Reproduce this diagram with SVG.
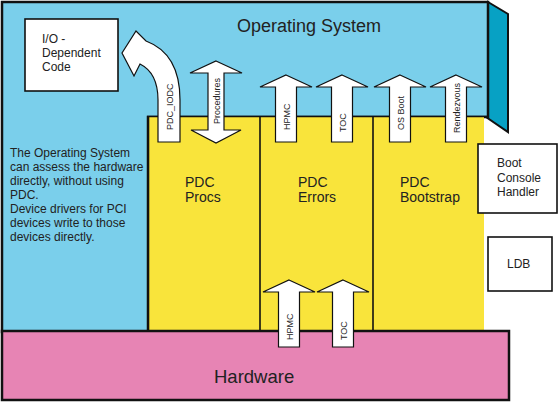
<svg xmlns="http://www.w3.org/2000/svg" width="558" height="403" viewBox="0 0 558 403">
<style>
text{font-family:"Liberation Sans",Arial,sans-serif;fill:#222}
.arrow{fill:#fff;stroke:#111;stroke-width:1.2;stroke-linejoin:miter}
.al{font-size:9px}
.box{fill:#fff;stroke:#111;stroke-width:1.6}
.lbl{font-size:12px}
.pdc{font-size:14px}
.div{stroke:#111;stroke-width:1.6}
</style>
<rect width="558" height="403" fill="#fff"/>
<g id="os">
<polygon points="488,2 508,14 508,132 486,117" fill="#07a1c4" stroke="#111" stroke-width="2"/>
<path d="M2,2 H488 V117 H148 V332 H2 Z" fill="#7acfeb" stroke="#111" stroke-width="2.5"/>
<text x="237" y="32" style="font-size:18px">Operating System</text>
<text class="lbl" x="10"><tspan x="10" y="157">The Operating System</tspan><tspan x="10" y="171">can assess the hardware</tspan><tspan x="10" y="185">directly, without using</tspan><tspan x="10" y="199">PDC.</tspan><tspan x="10" y="213">Device drivers for PCI</tspan><tspan x="10" y="227">devices write to those</tspan><tspan x="10" y="241">devices directly.</tspan></text>
</g>
<g id="pdc">
<rect x="148" y="116.5" width="336" height="215" fill="#f9e43b"/>
<line class="div" x1="147" y1="116.5" x2="488" y2="116.5"/>
<line class="div" x1="148.5" y1="116" x2="148.5" y2="332"/>
<line class="div" x1="260" y1="116" x2="260" y2="332"/>
<line class="div" x1="373" y1="116" x2="373" y2="332"/>
</g>
<g id="pdc-procs"><text class="pdc" x="185"><tspan x="185" y="187">PDC</tspan><tspan x="185" y="202">Procs</tspan></text></g>
<g id="pdc-errors"><text class="pdc" x="298"><tspan x="298" y="187">PDC</tspan><tspan x="298" y="202">Errors</tspan></text></g>
<g id="pdc-bootstrap"><text class="pdc" x="400"><tspan x="400" y="187">PDC</tspan><tspan x="400" y="202">Bootstrap</tspan></text></g>
<g id="hardware">
<rect x="2" y="331" width="507" height="69" fill="#e784b4" stroke="#111" stroke-width="2.5"/>
<text x="214" y="383" style="font-size:18.5px">Hardware</text>
</g>
<g id="io-code">
<rect class="box" x="25" y="19" width="93" height="72"/>
<text class="lbl"><tspan x="42" y="43">I/O -</tspan><tspan x="42" y="57">Dependent</tspan><tspan x="42" y="71">Code</tspan></text>
</g>
<g id="boot-console">
<rect class="box" x="478" y="144" width="79" height="69" stroke-width="2"/>
<text class="lbl"><tspan x="497" y="167">Boot</tspan><tspan x="497" y="182">Console</tspan><tspan x="497" y="196">Handler</tspan></text>
</g>
<g id="ldb">
<rect class="box" x="488" y="237" width="64" height="54"/>
<text class="lbl" x="507" y="268">LDB</text>
</g>
<g id="connectors">
<path class="arrow" d="M158,142 L158,100 C158,82 152,70 140,64 L134,76 L122,53 L136,31 L146,41 C170,50 180,72 180,100 L180,142 Z"/>
<text class="al" transform="translate(173,130) rotate(-90)">PDC_IODC</text>
<polygon class="arrow" points="216,61 242,73 224,73 224,130 241,130 216,143 191,130 208,130 208,73 190,73"/>
<text class="al" transform="translate(219.5,124) rotate(-90)">Procedures</text>
<polygon class="arrow" points="286,75 312,87 296.5,87 296.5,142 275.5,142 275.5,87 260,87"/>
<text class="al" transform="translate(289.5,130) rotate(-90)">HPMC</text>
<polygon class="arrow" points="342,75 368,87 352.5,87 352.5,142 331.5,142 331.5,87 316,87"/>
<text class="al" transform="translate(345.5,132) rotate(-90)">TOC</text>
<polygon class="arrow" points="400,75 426,87 410.5,87 410.5,142 389.5,142 389.5,87 374,87"/>
<text class="al" transform="translate(403.5,130) rotate(-90)">OS Boot</text>
<polygon class="arrow" points="456,75 482,87 466.5,87 466.5,142 445.5,142 445.5,87 430,87"/>
<text class="al" transform="translate(459.5,133) rotate(-90)">Rendezvous</text>
<polygon class="arrow" points="289,280 315,292 299.5,292 299.5,347 278.5,347 278.5,292 263,292"/>
<text class="al" transform="translate(292.5,340) rotate(-90)">HPMC</text>
<polygon class="arrow" points="343,280 369,292 353.5,292 353.5,347 332.5,347 332.5,292 317,292"/>
<text class="al" transform="translate(346.5,340) rotate(-90)">TOC</text>
</g>
</svg>
